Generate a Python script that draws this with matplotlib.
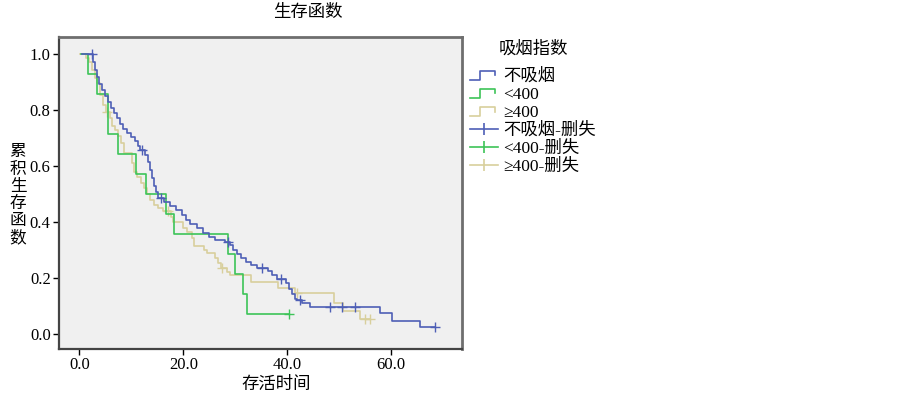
import numpy as np
import matplotlib
matplotlib.use("Agg")
import matplotlib.pyplot as plt
from matplotlib.lines import Line2D
from matplotlib.legend_handler import HandlerBase

plt.rcParams['font.family'] = ['Liberation Serif', 'Noto Sans CJK SC', 'DejaVu Sans']

# ---- data ----
groups = ["不吸烟", "<400", "≥400"]
censor_labels = ["不吸烟-删失", "<400-删失", "≥400-删失"]

blue_start = 0.5
blue_t = [2.6, 3.0, 3.4, 3.8, 4.4, 4.9, 5.5, 6.1, 6.7, 7.3, 7.8, 8.4, 9.2, 9.9, 10.7, 11.3,
          11.7, 12.6, 13.2, 13.6, 14.0, 14.4, 14.8, 15.1, 16.3, 17.4, 18.6, 19.8, 20.5, 21.3,
          22.6, 23.8, 24.9, 26.1, 28.0, 29.0, 29.6, 30.3, 31.1, 32.0, 33.0, 34.2, 36.3, 37.1,
          38.0, 39.8, 40.3, 40.9, 41.5, 41.9, 42.8, 44.4, 57.8, 60.1, 65.5]
blue_s = [0.971, 0.943, 0.918, 0.893, 0.871, 0.850, 0.829, 0.807, 0.789, 0.771, 0.750, 0.732,
          0.718, 0.704, 0.689, 0.671, 0.657, 0.639, 0.614, 0.586, 0.557, 0.529, 0.507, 0.486,
          0.471, 0.457, 0.443, 0.425, 0.407, 0.393, 0.379, 0.361, 0.346, 0.336, 0.329, 0.318,
          0.300, 0.286, 0.271, 0.257, 0.246, 0.236, 0.225, 0.211, 0.196, 0.182, 0.161, 0.143,
          0.125, 0.121, 0.111, 0.096, 0.075, 0.046, 0.025]
blue_end = 68.4
blue_cens = [2.4, 12.1, 15.7, 28.6, 35.1, 38.8, 42.4, 48.2, 50.5, 53.0, 68.4]

green_start = 0.3
green_t = [1.7, 3.5, 5.5, 7.5, 10.9, 12.8, 16.7, 18.3, 28.6, 29.9, 31.4, 32.2]
green_s = [0.929, 0.857, 0.714, 0.643, 0.571, 0.500, 0.429, 0.357, 0.286, 0.214, 0.143, 0.071]
green_end = 40.4
green_cens = [40.4]

yellow_start = 0.1
yellow_t = [1.3, 1.9, 2.4, 3.0, 3.4, 4.0, 4.6, 5.1, 5.9, 6.3, 6.9, 7.4, 8.0, 8.6, 10.1, 10.5,
            11.1, 11.9, 12.4, 13.0, 13.6, 14.4, 15.1, 16.1, 17.6, 18.0, 19.9, 20.7, 21.7, 22.1,
            24.0, 24.6, 26.1, 26.7, 27.3, 28.4, 29.0, 33.0, 38.2, 41.5, 49.0, 50.7, 54.0]
yellow_s = [0.986, 0.971, 0.943, 0.914, 0.896, 0.854, 0.818, 0.793, 0.771, 0.743, 0.729, 0.707,
            0.682, 0.646, 0.611, 0.579, 0.561, 0.539, 0.521, 0.500, 0.479, 0.461, 0.450, 0.439,
            0.418, 0.400, 0.379, 0.364, 0.343, 0.314, 0.300, 0.289, 0.271, 0.254, 0.236, 0.221,
            0.211, 0.186, 0.164, 0.146, 0.111, 0.082, 0.054]
yellow_end = 55.9
yellow_cens = [5.3, 17.1, 27.5, 41.9, 55.0, 55.9]

x_ticks = [0.0, 20.0, 40.0, 60.0]
y_ticks = [0.0, 0.2, 0.4, 0.6, 0.8, 1.0]

colors = ["#4E5FB6", "#3DC458", "#D8CF9C"]

# ---- figure ----
fig = plt.figure(figsize=(9.03, 3.97), dpi=100)
ax = fig.add_axes([59/903, 48/397, 403/903, 312/397])
ax.set_facecolor("#F0F0F0")

series = [
    (blue_start, blue_t, blue_s, blue_end, blue_cens),
    (green_start, green_t, green_s, green_end, green_cens),
    (yellow_start, yellow_t, yellow_s, yellow_end, yellow_cens),
]
order = [2, 1, 0]
for i in order:
    st, tt, ss, en, cc = series[i]
    x = np.array([st] + tt + [en])
    y = np.array([1.0] + ss + [ss[-1]])
    ax.step(x, y, where='post', color=colors[i], lw=1.2, zorder=3 + (2 - i))
    idx = np.searchsorted(x, np.array(cc), side='right') - 1
    ax.plot(cc, y[idx], ls='none', marker='+', ms=7, mew=1.0, color=colors[i], zorder=3 + (2 - i))

ax.set_xlim(-3.9, 73.6)
ax.set_ylim(-0.054, 1.061)
ax.set_xticks(x_ticks)
ax.set_xticklabels([f"{v:.1f}" for v in x_ticks])
ax.set_yticks(y_ticks)
ax.set_yticklabels([f"{v:.1f}" for v in y_ticks])
ax.tick_params(axis='both', direction='out', length=4, width=1, labelsize=12, colors='black', pad=2)

for side in ['left', 'bottom']:
    ax.spines[side].set_color('#444444')
    ax.spines[side].set_linewidth(1.6)
for side in ['top', 'right']:
    ax.spines[side].set_color('#6E6E6E')
    ax.spines[side].set_linewidth(2.0)

fig.text(308/903, 1 - 12/397, "生存函数", ha='center', va='center', fontsize=12.5,
         family=['Noto Sans CJK SC'])
fig.text(276/903, 1 - 384/397, "存活时间", ha='center', va='center', fontsize=12.5,
         family=['Noto Sans CJK SC'])
fig.text(18/903, 1 - 195/397, "累\n积\n生\n存\n函\n数", ha='center', va='center', fontsize=12,
         family=['Noto Sans CJK SC'], linespacing=1.02)


class StepHandler(HandlerBase):
    def create_artists(self, legend, orig_handle, xdescent, ydescent, width, height, fontsize, trans):
        xs = np.array([0.0, 0.35, 0.35, 0.9, 0.9]) * width - xdescent
        ys = np.array([0.1, 0.1, 0.8, 0.8, 0.45]) * height - ydescent
        ln = Line2D(xs, ys, color=orig_handle.get_color(), lw=1.2)
        ln.set_transform(trans)
        return [ln]


handles = [Line2D([], [], color=c) for c in colors]
handles += [Line2D([], [], color=c, marker='|', ms=9, mew=1.2, lw=1.2) for c in colors]
labels = groups + censor_labels
hmap = {h: StepHandler() for h in handles[:3]}
leg = fig.legend(handles, labels, handler_map=hmap, loc='upper left',
                 bbox_to_anchor=(467/903, 1 - 36/397), frameon=False, title="吸烟指数",
                 prop={'family': ['Liberation Serif', 'Noto Sans CJK SC'], 'size': 12.5},
                 handlelength=1.6, handletextpad=0.3, labelspacing=0.11, borderpad=0.2,
                 borderaxespad=0)
leg.get_title().set_family(['Noto Sans CJK SC'])
leg.get_title().set_fontsize(12.5)
leg._legend_box.sep = 8

fig.savefig("out.png", dpi=100)
